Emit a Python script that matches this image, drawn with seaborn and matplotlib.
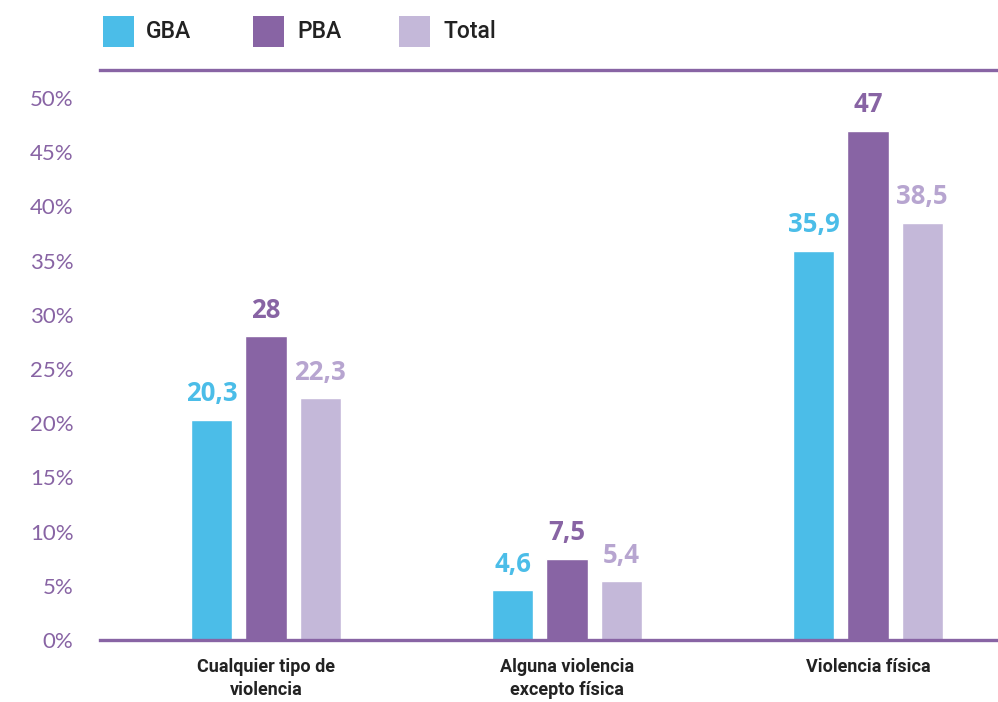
import matplotlib
matplotlib.use("Agg")
import matplotlib.pyplot as plt
import seaborn as sns
import pandas as pd
from matplotlib.patches import Rectangle

categories = ["Cualquier tipo de\nviolencia", "Alguna violencia\nexcepto física", "Violencia física"]
series = ["GBA", "PBA", "Total"]
gba = [20.3, 4.6, 35.9]
pba = [28, 7.5, 47]
total = [22.3, 5.4, 38.5]
yticks = [0, 5, 10, 15, 20, 25, 30, 35, 40, 45, 50]

colors = {"GBA": "#4bbde8", "PBA": "#8864a4", "Total": "#c4b8d9"}
label_colors = {"GBA": "#4bbde8", "PBA": "#8864a4", "Total": "#b7a5d0"}
purple = "#8864a4"

rows = []
for s, vals in zip(series, [gba, pba, total]):
    for c, v in zip(categories, vals):
        rows.append({"categoria": c, "serie": s, "valor": v})
df = pd.DataFrame(rows)

sns.set_style("white")
plt.rcParams["font.family"] = ["Roboto", "DejaVu Sans"]

W, H = 998, 702
fig = plt.figure(figsize=(W / 100, H / 100), dpi=100)
ax = fig.add_axes([100 / W, 62 / H, 898 / W, 570 / H])

sns.barplot(data=df, x="categoria", y="valor", hue="serie", order=categories,
            hue_order=series, palette=colors, width=0.54, gap=0.24,
            saturation=1, legend=False, ax=ax)

for cont, s in zip(ax.containers, series):
    labels = [f"{v:g}".replace(".", ",") for v in cont.datavalues]
    ax.bar_label(cont, labels=labels, padding=9, color=label_colors[s],
                 fontsize=18.5, fontweight="bold", family=["Open Sans", "DejaVu Sans"])

ax.set_ylim(0, 570 / 10.84)
ax.set_xlim(-166 / 301, 2 + 130 / 301)
ax.set_yticks(yticks)
ax.set_yticklabels([f"{t}%" for t in yticks], color=purple, fontsize=16,
                   family=["Lato", "DejaVu Sans"])
ax.tick_params(axis="y", length=0, pad=19)
ax.tick_params(axis="x", length=0, pad=13, labelsize=13, labelcolor="#222222")
for lab in ax.get_xticklabels():
    lab.set_fontweight("bold")
    lab.set_linespacing(1.35)
ax.set_xlabel("")
ax.set_ylabel("")

for side in ["left", "right"]:
    ax.spines[side].set_visible(False)
for side in ["top", "bottom"]:
    ax.spines[side].set_visible(True)
    ax.spines[side].set_color(purple)
    ax.spines[side].set_linewidth(2.4)

# legend drawn in figure pixel space
sq_x = [103, 253, 399]
tx_x = [146, 297, 443]
for s, sx, tx in zip(series, sq_x, tx_x):
    fig.add_artist(Rectangle((sx / W, 1 - 47 / H), 31 / W, 31 / H,
                             transform=fig.transFigure, facecolor=colors[s],
                             edgecolor="none"))
    fig.text(tx / W, 1 - 32 / H, s, ha="left", va="center", fontsize=16.5,
             fontweight="medium", color="#222222", family=["Roboto", "DejaVu Sans"])

fig.savefig("out.png", dpi=100)
